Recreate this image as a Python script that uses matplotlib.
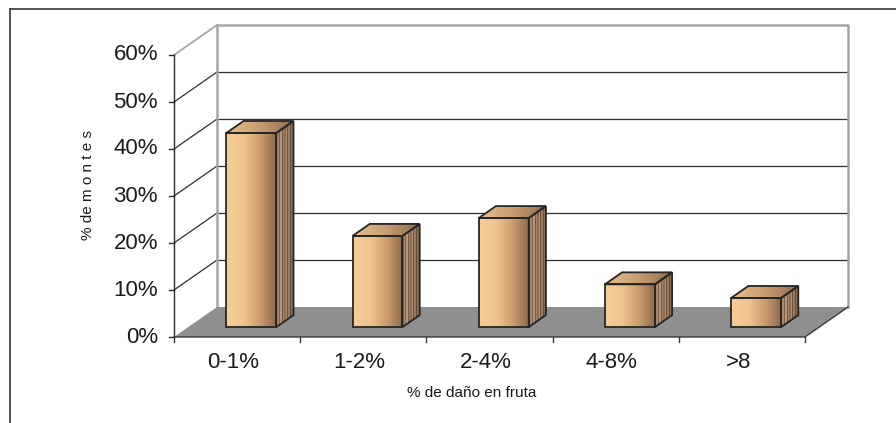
import numpy as np
import matplotlib
matplotlib.use("Agg")
import matplotlib.pyplot as plt
from matplotlib.patches import Polygon
from matplotlib.colors import LinearSegmentedColormap

plt.rcParams['font.family'] = ['Liberation Sans', 'DejaVu Sans']

# datos
categorias = ["0-1%", "1-2%", "2-4%", "4-8%", ">8"]
valores = [41.3, 19.4, 23.2, 9.1, 6.2]          # % de montes
ticks_y = [0, 10, 20, 30, 40, 50, 60]
etiquetas_y = ["0%", "10%", "20%", "30%", "40%", "50%", "60%"]

# geometria del "3D" (en unidades de datos)
n = len(categorias)
ymax = 60
DX, DY = 0.341, 6.38      # desplazamiento de profundidad
d0, d1 = 0.33, 0.73       # profundidad de las barras
hw = 0.198                # media anchura de barra


def proj(x, y, d):
    return (x + d * DX, y + d * DY)


fig = plt.figure(figsize=(8.96, 4.23), dpi=100)
ax = fig.add_axes([0, 0, 1, 1])
ax.set_axis_off()

# marco exterior
ax.plot([10 / 896, 10 / 896], [0, 1 - 9 / 423], color='#444444', lw=1.3, transform=ax.transAxes)
ax.plot([10 / 896, 1], [1 - 9 / 423, 1 - 9 / 423], color='#444444', lw=1.3, transform=ax.transAxes)

grid_dark = '#2e2e2e'
wall_gray = '#a6a6a6'

# pared del fondo y lateral
for t in ticks_y[1:-1]:
    x0, y0 = proj(0, t, 1)
    ax.plot([x0, x0 + n], [y0, y0], color=grid_dark, lw=0.9, zorder=1)
    ax.plot([0, x0], [t, y0], color=grid_dark, lw=0.9, zorder=1)
xt, yt = proj(0, ymax, 1)
ax.plot([0, xt], [ymax, yt], color=wall_gray, lw=1.3, zorder=1)
ax.plot([xt, xt + n, xt + n], [yt, yt, DY], color=wall_gray, lw=1.8, zorder=1)
ax.plot([xt, xt], [DY, yt], color=wall_gray, lw=1.8, zorder=1)

# piso
piso = [proj(0, 0, 0), proj(n, 0, 0), proj(n, 0, 1), proj(0, 0, 1)]
ax.add_patch(Polygon(piso, closed=True, facecolor='#8f8f8f', edgecolor='none', zorder=2))
ax.plot([0, n, n + DX], [0, 0, DY], color='#3a3a3a', lw=1.0, zorder=3)

# eje vertical
ax.plot([0, 0], [0, ymax], color=grid_dark, lw=1.0, zorder=3)
tick_dx = 5 / 126.2
for t, lab in zip(ticks_y, etiquetas_y):
    ax.plot([-tick_dx, 0], [t, t], color=grid_dark, lw=1.0, zorder=3)
    ax.text(-16 / 126.2, t, lab, ha='right', va='center', fontsize=16, color='#1a1a1a')

# eje x
tick_dy = 5 / 4.7
for i in range(n + 1):
    ax.plot([i, i], [0, -tick_dy], color='#3a3a3a', lw=1.0, zorder=3)
for i, lab in enumerate(categorias):
    ax.text(i + 0.47, -5.4, lab, ha='center', va='center', fontsize=16, color='#1a1a1a')

ax.text(2.36, -11.9, "% de daño en fruta", ha='center', va='center', fontsize=11, color='#1a1a1a')
ax.text(-0.68, 32.3, "% de m o n t e s", ha='center', va='center', rotation=90,
        fontsize=11, color='#1a1a1a')

# colores de las barras
cm_front = LinearSegmentedColormap.from_list(
    'front', [(0, '#f7cc96'), (0.35, '#f0c48e'), (0.7, '#c99a6c'), (1, '#8e6a4c')])
cm_top = LinearSegmentedColormap.from_list(
    'top', [(0, '#e7bf8f'), (0.5, '#c89c70'), (1, '#8c6a4e')])
grad = np.linspace(0, 1, 200).reshape(1, -1)
stripes = np.array([0.55, 0.8, 0.5, 0.9, 0.45, 0.75, 0.6, 0.85, 0.4, 0.7, 0.35, 0.6, 0.3])
stripes = stripes.reshape(1, -1)
cm_side = LinearSegmentedColormap.from_list('side', ['#5e4632', '#b8967a'])
edge = '#262626'

for i, v in enumerate(valores):
    c = i + 0.5
    # cara frontal
    fx0, fy0 = proj(c - hw, 0, d0)
    fx1, fy1 = proj(c + hw, v, d0)
    front = Polygon([(fx0, fy0), (fx1, fy0), (fx1, fy1), (fx0, fy1)], closed=True,
                    facecolor='none', edgecolor=edge, lw=1.3, zorder=6)
    im = ax.imshow(grad, cmap=cm_front, extent=[fx0, fx1, fy0, fy1], aspect='auto',
                   interpolation='bilinear', zorder=5)
    ax.add_patch(front)
    im.set_clip_path(front)

    # cara lateral
    side_pts = [proj(c + hw, 0, d0), proj(c + hw, v, d0), proj(c + hw, v, d1), proj(c + hw, 0, d1)]
    side = Polygon(side_pts, closed=True, facecolor='none', edgecolor=edge, lw=1.3, zorder=6)
    xs = [p[0] for p in side_pts]
    ys = [p[1] for p in side_pts]
    im = ax.imshow(stripes, cmap=cm_side, extent=[min(xs), max(xs), min(ys), max(ys)],
                   aspect='auto', interpolation='nearest', zorder=5)
    ax.add_patch(side)
    im.set_clip_path(side)

    # cara superior
    top_pts = [proj(c - hw, v, d0), proj(c + hw, v, d0), proj(c + hw, v, d1), proj(c - hw, v, d1)]
    top = Polygon(top_pts, closed=True, facecolor='none', edgecolor=edge, lw=1.3, zorder=6)
    xs = [p[0] for p in top_pts]
    ys = [p[1] for p in top_pts]
    im = ax.imshow(grad, cmap=cm_top, extent=[min(xs), max(xs), min(ys), max(ys)],
                   aspect='auto', interpolation='bilinear', zorder=5)
    ax.add_patch(top)
    im.set_clip_path(top)

# escala: 126.2 px por categoria, 4.7 px por 1 %
ax.set_xlim(-174 / 126.2, (896 - 174) / 126.2)
ax.set_ylim(-86 / 4.7, (423 - 86) / 4.7)

fig.savefig("out.png", dpi=100)
